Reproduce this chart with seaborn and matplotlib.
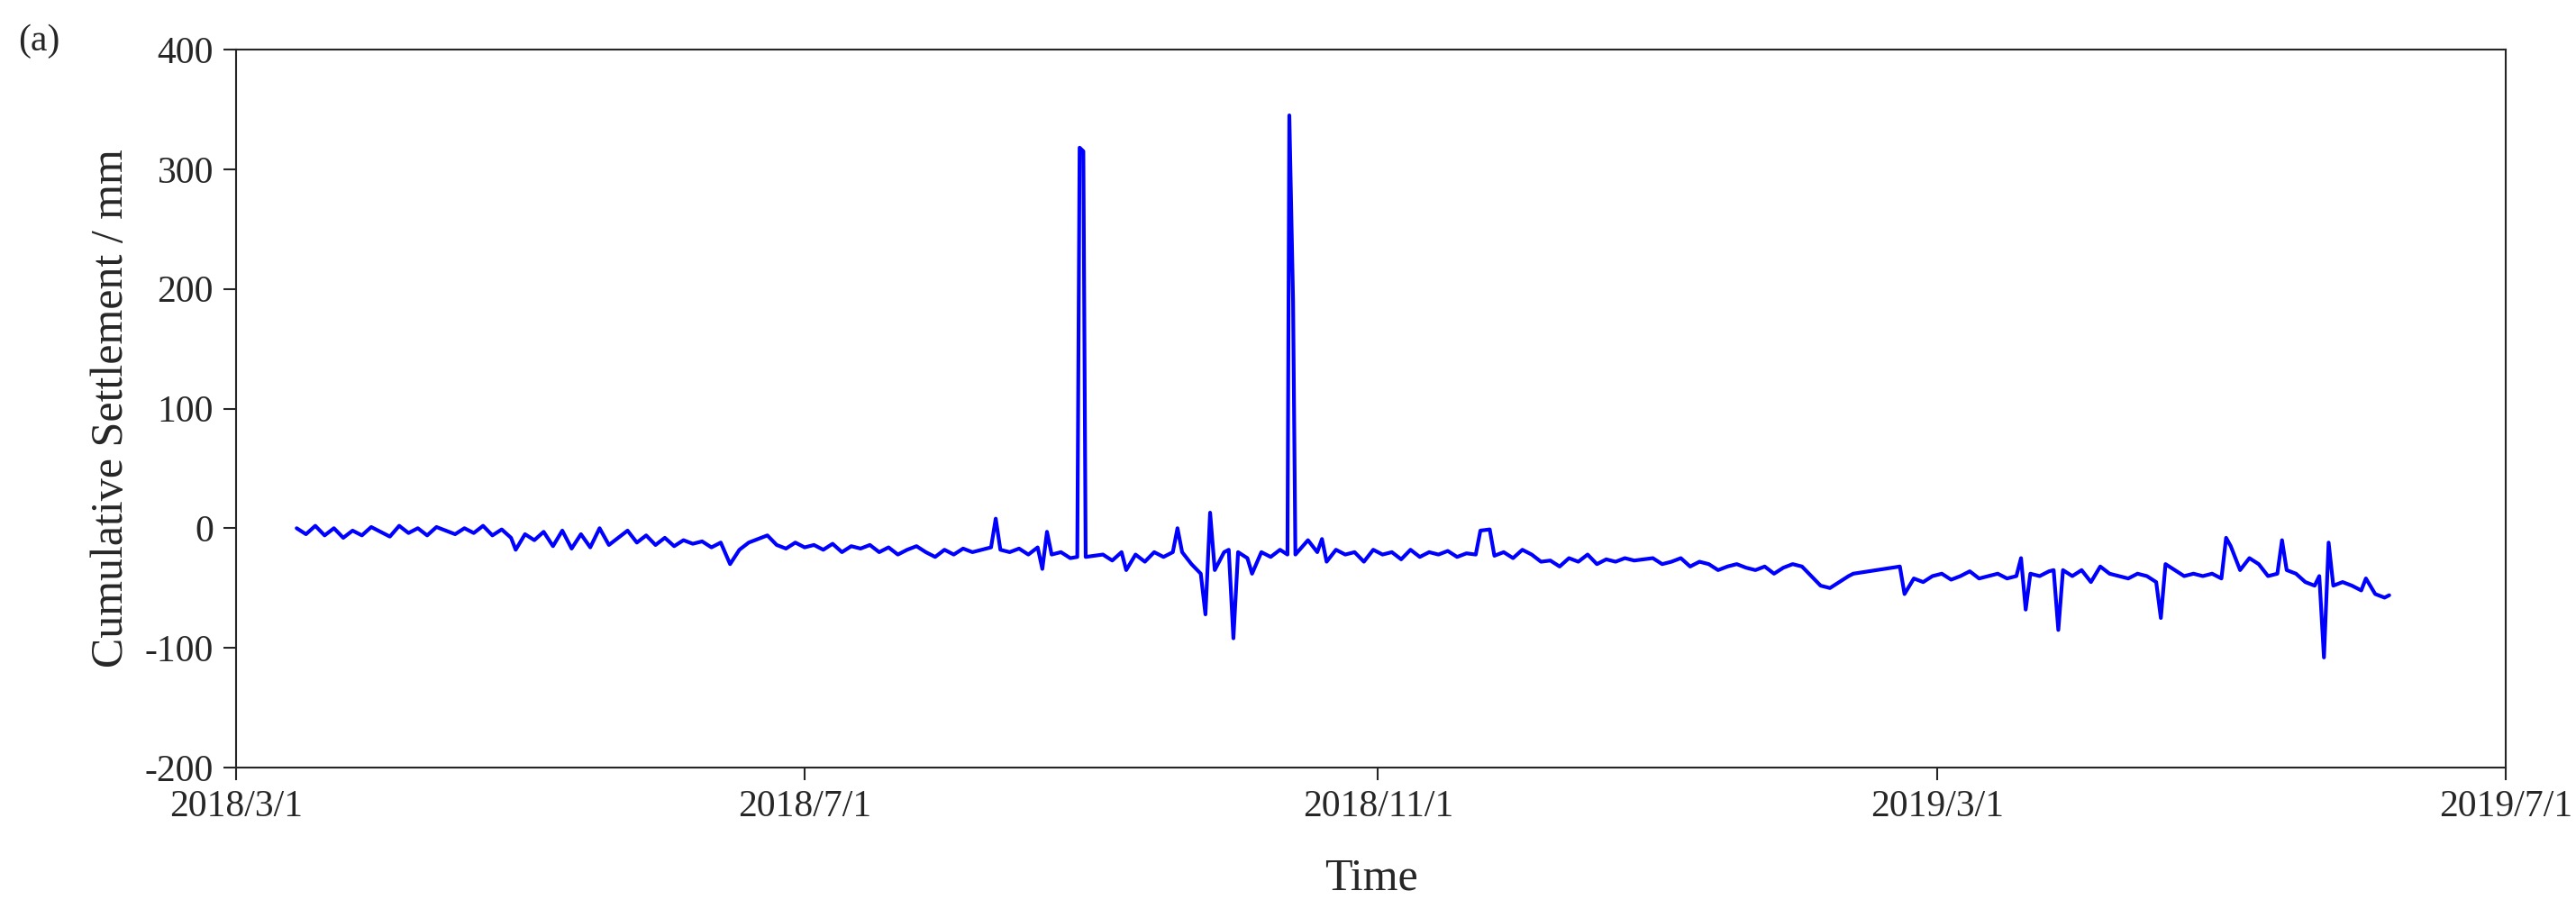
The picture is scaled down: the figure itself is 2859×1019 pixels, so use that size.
import matplotlib
matplotlib.use("Agg")
import matplotlib.pyplot as plt
import numpy as np
import pandas as pd
import seaborn as sns

# days after 2018-03-01 and cumulative settlement (mm)
days = [13, 15, 17, 19, 21, 23, 25, 27, 29, 31, 33, 35, 37, 39, 41, 43, 45, 47, 49, 51,
        53, 55, 57, 59, 60, 62, 64, 66, 68, 70, 72, 74, 76, 78, 80, 82, 84, 86, 88, 90,
        92, 94, 96, 98, 100, 102, 104, 106, 108, 110, 112, 114, 116, 118, 120, 122, 124, 126, 128, 130,
        132, 134, 136, 138, 140, 142, 144, 146, 148, 150, 152, 154, 156, 158, 160, 162, 163, 164, 166, 168,
        170, 172, 173, 174, 175, 177, 179, 180.5, 181, 181.8, 182.3, 186, 188, 190, 191, 193, 195, 197, 199, 201,
        202, 203, 205, 207, 208, 209, 210, 212, 213, 214, 215, 217, 218, 220, 222, 224, 225.6, 226, 226.8, 227.3,
        230, 232, 233, 234, 236, 238, 240, 242, 244, 246, 248, 250, 252, 254, 256, 258, 260, 262, 264, 266,
        267, 269, 270, 272, 274, 276, 278, 280, 282, 284, 286, 288, 290, 292, 294, 296, 298, 300, 302, 304,
        306, 308, 310, 312, 314, 316, 318, 320, 322, 324, 326, 328, 330, 332, 334, 336, 338, 340, 342, 344,
        346, 347, 357, 358, 360, 362, 364, 366, 368, 370, 372, 374, 376, 378, 380, 382, 383, 384, 385, 387,
        389, 390, 391, 392, 394, 396, 398, 400, 402, 404, 406, 408, 410, 412, 413, 414, 416, 418, 420, 422,
        424, 426, 427, 428, 430, 432, 434, 436, 438, 439, 440, 442, 444, 446, 447, 448, 449, 450, 452, 454,
        456, 457, 459, 461, 462]
settlement = [0, -5, 2, -6, 0, -8, -2, -6, 1, -3, -7, 2, -4, 0, -6, 1, -2, -5, 0, -4,
              2, -6, -1, -8, -18, -5, -10, -3, -15, -2, -17, -5, -16, 0, -14, -8, -2, -12, -6, -14,
              -8, -15, -10, -13, -11, -16, -12, -30, -18, -12, -9, -6, -14, -17, -12, -16, -14, -18, -13, -20,
              -15, -17, -14, -20, -16, -22, -18, -15, -20, -24, -18, -22, -17, -20, -18, -16, 8, -18, -20, -17,
              -22, -16, -34, -3, -22, -20, -25, -24, 318, 315, -24, -22, -27, -20, -35, -22, -28, -20, -24, -20,
              0, -20, -30, -38, -72, 13, -35, -20, -18, -92, -20, -25, -38, -20, -24, -18, -22, 345, 190, -22,
              -10, -20, -9, -28, -18, -22, -20, -28, -18, -22, -20, -26, -18, -24, -20, -22, -19, -24, -21, -22,
              -2, -1, -23, -20, -25, -18, -22, -28, -27, -32, -25, -28, -22, -30, -26, -28, -25, -27, -26, -25,
              -30, -28, -25, -32, -28, -30, -35, -32, -30, -33, -35, -32, -38, -33, -30, -32, -40, -48, -50, -45,
              -40, -38, -32, -55, -42, -45, -40, -38, -43, -40, -36, -42, -40, -38, -42, -40, -25, -68, -38, -40,
              -36, -35, -85, -35, -40, -35, -45, -32, -38, -40, -42, -38, -40, -45, -75, -30, -35, -40, -38, -40,
              -38, -42, -8, -15, -35, -25, -30, -40, -38, -10, -35, -38, -45, -48, -40, -108, -12, -48, -45, -48,
              -52, -42, -55, -58, -56]

start = pd.Timestamp("2018-03-01")
df = pd.DataFrame({"Time": start + pd.to_timedelta(days, unit="D"),
                   "Settlement": settlement})

sns.set_style("ticks")
plt.rcParams["font.family"] = ["Liberation Serif", "DejaVu Serif"]
plt.rcParams["axes.unicode_minus"] = False

fig = plt.figure(figsize=(28.59, 10.19), dpi=100)
ax = fig.add_axes([262 / 2859, 1 - 852 / 1019, (2781 - 262) / 2859, (852 - 55) / 1019])
sns.lineplot(data=df, x="Time", y="Settlement", color="#0000ff", linewidth=3, ax=ax)

ax.set_xlim(pd.Timestamp("2018-03-01"), pd.Timestamp("2019-07-01"))
ax.set_ylim(-200, 400)
ax.set_yticks(range(-200, 401, 100))
ticks = pd.to_datetime(["2018-03-01", "2018-07-01", "2018-11-01", "2019-03-01", "2019-07-01"])
ax.set_xticks(ticks)
ax.set_xticklabels(["2018/3/1", "2018/7/1", "2018/11/1", "2019/3/1", "2019/7/1"])
ax.tick_params(labelsize=30, length=10, width=1.5, direction="out", pad=8)
for s in ax.spines.values():
    s.set_linewidth(1.5)
ax.set_xlabel("Time", fontsize=36, labelpad=26)
ax.set_ylabel("Cumulative Settlement / mm", fontsize=36, labelpad=10)
fig.text(0.007, 0.955, "(a)", fontsize=30, va="center")

fig.savefig("out.png", dpi=100)
